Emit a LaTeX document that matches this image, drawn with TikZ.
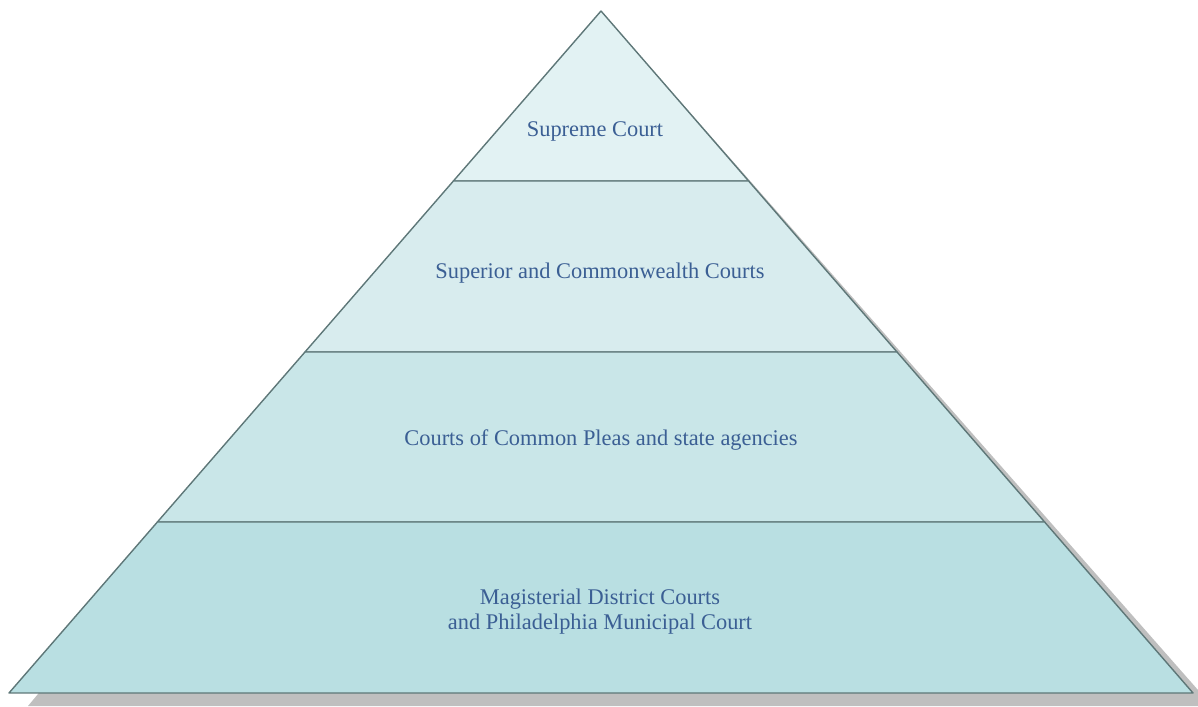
\documentclass[tikz,border=0pt]{standalone}
\usepackage{fontspec}
\setmainfont{Liberation Serif}
\usepackage{xcolor}
\usepackage{tikz}
\definecolor{tierone}{HTML}{E2F2F3}
\definecolor{tiertwo}{HTML}{D8ECEE}
\definecolor{tierthree}{HTML}{C9E6E8}
\definecolor{tierfour}{HTML}{B9DFE2}
\definecolor{edgegray}{HTML}{5E7778}
\definecolor{shadowgray}{HTML}{BFBFBF}
\definecolor{textblue}{HTML}{3B5F94}
\tikzstyle{tier} = [draw=edgegray, line width=0.7pt, line join=round]
\tikzstyle{tiertext} = [text=textblue, align=center, font=\fontsize{11.2}{12.5}\selectfont]

\begin{document}
\begin{tikzpicture}[x=0.5pt, y=0.5pt]
            \useasboundingbox (0,0) rectangle (1198,706);

            % shadow behind the pyramid
            \fill[shadowgray] (28,0) -- (605,690) -- (1198,16) -- (1198,0) -- cycle;

            % tiers, top to bottom
            \filldraw[tier, fill=tierone] (601,695) -- (453.4,525) -- (748.6,525) -- cycle;
            \filldraw[tier, fill=tiertwo] (453.4,525) -- (305,354) -- (897,354) -- (748.6,525) -- cycle;
            \filldraw[tier, fill=tierthree] (305,354) -- (157.4,184) -- (1044.6,184) -- (897,354) -- cycle;
            \filldraw[tier, fill=tierfour] (157.4,184) -- (9,13) -- (1193,13) -- (1044.6,184) -- cycle;

            \node[tiertext] (supreme) at (595,575) {Supreme Court};
            \node[tiertext] (superior) at (600,433) {Superior and Commonwealth Courts};
            \node[tiertext] (pleas) at (601,266) {Courts of Common Pleas and state agencies};
            \node[tiertext] (district) at (600,94.5) {Magisterial District Courts\\and Philadelphia Municipal Court};
        \end{tikzpicture}
\end{document}
